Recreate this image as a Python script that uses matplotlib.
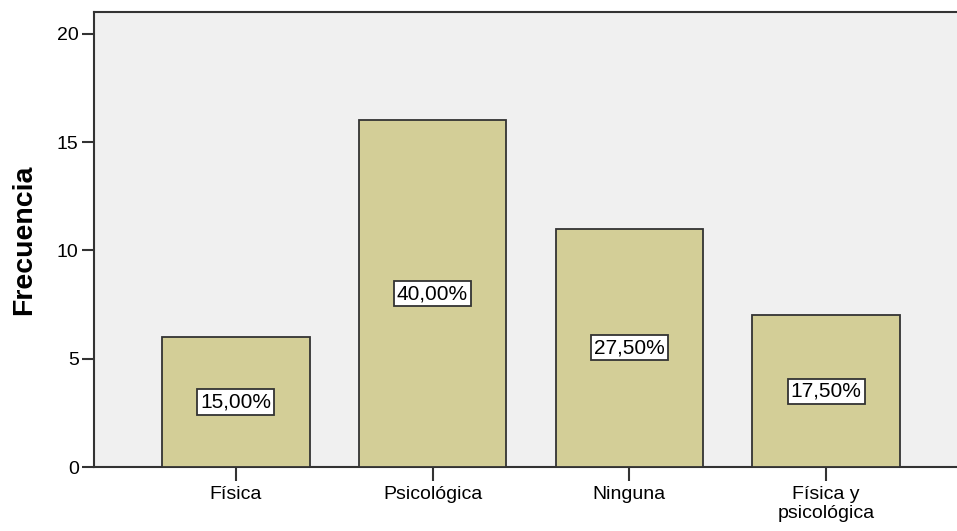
import matplotlib
matplotlib.use("Agg")

import matplotlib.pyplot as plt
import numpy as np

# ---------------------------------------------------------------------------
# DATA
# ---------------------------------------------------------------------------

categories = ["Física", "Psicológica", "Ninguna", "Física y\npsicológica"]
frequencies = [6, 16, 11, 7]
percent_labels = ["15,00%", "40,00%", "27,50%", "17,50%"]
y_ticks = [0, 5, 10, 15, 20]

# ---------------------------------------------------------------------------
# PLOT
# ---------------------------------------------------------------------------

plt.rcParams["font.family"] = ["Liberation Sans", "DejaVu Sans"]

fig = plt.figure(figsize=(9.57, 5.31), dpi=100)
ax = fig.add_axes([94 / 957, 1 - 467 / 531, 1 - 94 / 957, (467 - 12) / 531])
ax.set_facecolor("#F0F0F0")

x = np.arange(len(categories))
ax.bar(x, frequencies, width=0.75, color="#D3CE97", edgecolor="#333333",
       linewidth=1.3, zorder=3)

for xi, val, lab in zip(x, frequencies, percent_labels):
    ax.text(xi, val / 2, lab, ha="center", va="center", fontsize=15,
            color="black", zorder=4,
            bbox=dict(boxstyle="square,pad=0.15", facecolor="white",
                      edgecolor="#333333", linewidth=1.3))

ax.set_xlim(-0.72, 3.665)
ax.set_ylim(0, 21.0)
ax.set_xticks(x)
ax.set_xticklabels(categories, fontsize=14, linespacing=1.1)
ax.set_yticks(y_ticks)
ax.set_yticklabels([str(v) for v in y_ticks], fontsize=14)
ax.tick_params(axis="x", length=10, width=1.5, color="#333333", pad=4)
ax.tick_params(axis="y", length=9, width=1.5, color="#333333", pad=2)

for side in ["left", "bottom", "top"]:
    ax.spines[side].set_linewidth(1.5)
    ax.spines[side].set_color("#333333")
ax.spines["right"].set_visible(False)

ax.set_ylabel("Frecuencia", fontsize=20.5, fontweight="bold", labelpad=14)

fig.savefig("out.png", dpi=100)
plt.close(fig)
